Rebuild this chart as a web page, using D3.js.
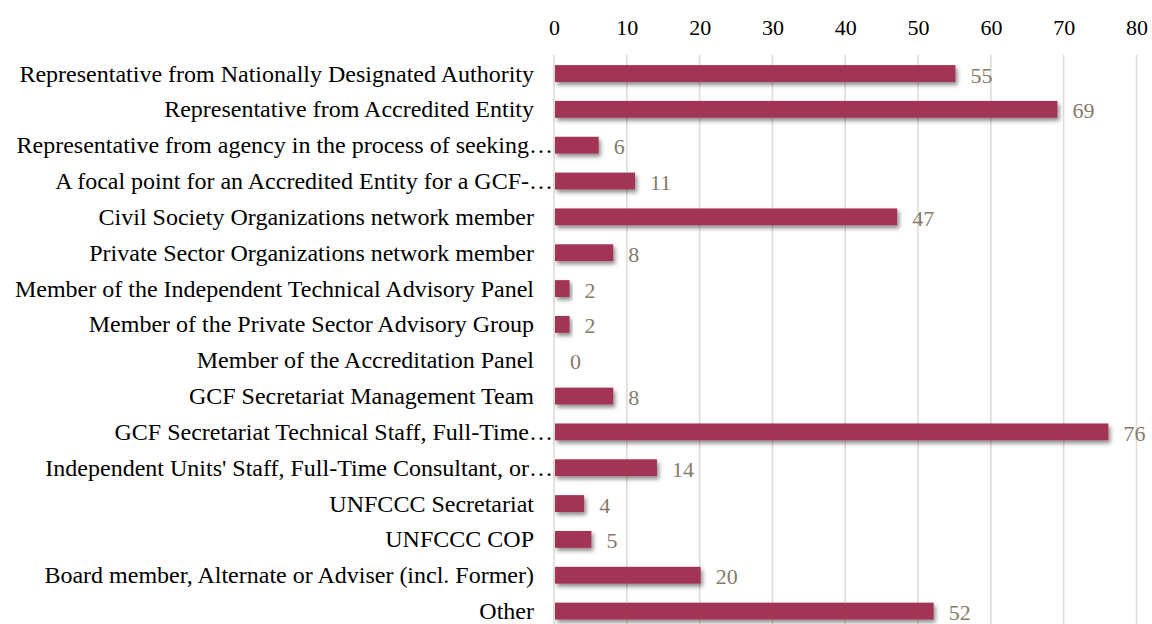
<!DOCTYPE html>
<html>
<head>
<meta charset="utf-8">
<script src="https://cdn.jsdelivr.net/npm/d3@7"></script>
<style>
	body { margin: 0; background: #fff; }
	svg { display: block; font-family: "Liberation Serif", "Times New Roman", serif; }
</style>
</head>
<body>
<svg id="chart" width="1152" height="624"></svg>
<script>
const categories = [
	'Representative from Nationally Designated Authority',
	'Representative from Accredited Entity',
	'Representative from agency in the process of seeking\u2026',
	'A focal point for an Accredited Entity for a GCF-\u2026',
	'Civil Society Organizations network member',
	'Private Sector Organizations network member',
	'Member of the Independent Technical Advisory Panel',
	'Member of the Private Sector Advisory Group',
	'Member of the Accreditation Panel',
	'GCF Secretariat Management Team',
	'GCF Secretariat Technical Staff, Full-Time\u2026',
	'Independent Units\' Staff, Full-Time Consultant, or\u2026',
	'UNFCCC Secretariat',
	'UNFCCC COP',
	'Board member, Alternate or Adviser (incl. Former)',
	'Other'
];
const counts = [55, 69, 6, 11, 47, 8, 2, 2, 0, 8, 76, 14, 4, 5, 20, 52];
const tickValues = [0, 10, 20, 30, 40, 50, 60, 70, 80];

let svg		= d3.select('#chart');

let x		= d3.scaleLinear().domain([0, 80]).range([554, 1136.5]);
let y		= d3.scaleBand().domain(categories).range([55.6, 629]).paddingInner(0.53).paddingOuter(0.265);

let defs	= svg.append('defs');
let shadow	= defs.append('filter').attr('id', 'shadow').attr('x', '-10%').attr('y', '-40%').attr('width', '130%').attr('height', '200%');
shadow.append('feDropShadow').attr('dx', 2).attr('dy', 3).attr('stdDeviation', 2).attr('flood-color', '#000').attr('flood-opacity', 0.45);

// gridlines
svg.append('g').selectAll('line').data(tickValues).join('line')
	.attr('x1', d => x(d)).attr('x2', d => x(d))
	.attr('y1', 55).attr('y2', 624)
	.attr('stroke', '#dedad4').attr('stroke-width', 1.5);

// top axis labels
let axis = svg.append('g').attr('transform', 'translate(0,35)')
	.call(d3.axisTop(x).tickValues(tickValues).tickSize(0).tickPadding(0));
axis.select('.domain').remove();
axis.selectAll('text').attr('font-size', 22).attr('fill', '#000').attr('dy', 0)
	.attr('font-family', '"Liberation Serif", serif');

// category labels (truncated ones run up to the bar edge, like the source)
svg.append('g').selectAll('text').data(categories).join('text')
	.attr('x', d => d.endsWith('\u2026') ? x(0) - 1 : x(0) - 20)
	.attr('y', d => y(d) + y.bandwidth() / 2 + 8)
	.attr('text-anchor', 'end')
	.attr('font-size', 24).attr('fill', '#000')
	.text(d => d);

// bars
svg.append('g').selectAll('rect').data(counts).join('rect')
	.attr('x', x(0) + 1)
	.attr('y', (d, i) => y(categories[i]))
	.attr('width', d => Math.max(0, x(d) - x(0)))
	.attr('height', y.bandwidth())
	.attr('fill', '#a23456')
	.attr('filter', 'url(#shadow)');

// value labels
svg.append('g').selectAll('text').data(counts).join('text')
	.attr('x', d => x(d) + 16)
	.attr('y', (d, i) => y(categories[i]) + y.bandwidth() / 2 + 9)
	.attr('font-size', 22).attr('fill', '#857a6a')
	.text(d => d);
</script>
</body>
</html>
